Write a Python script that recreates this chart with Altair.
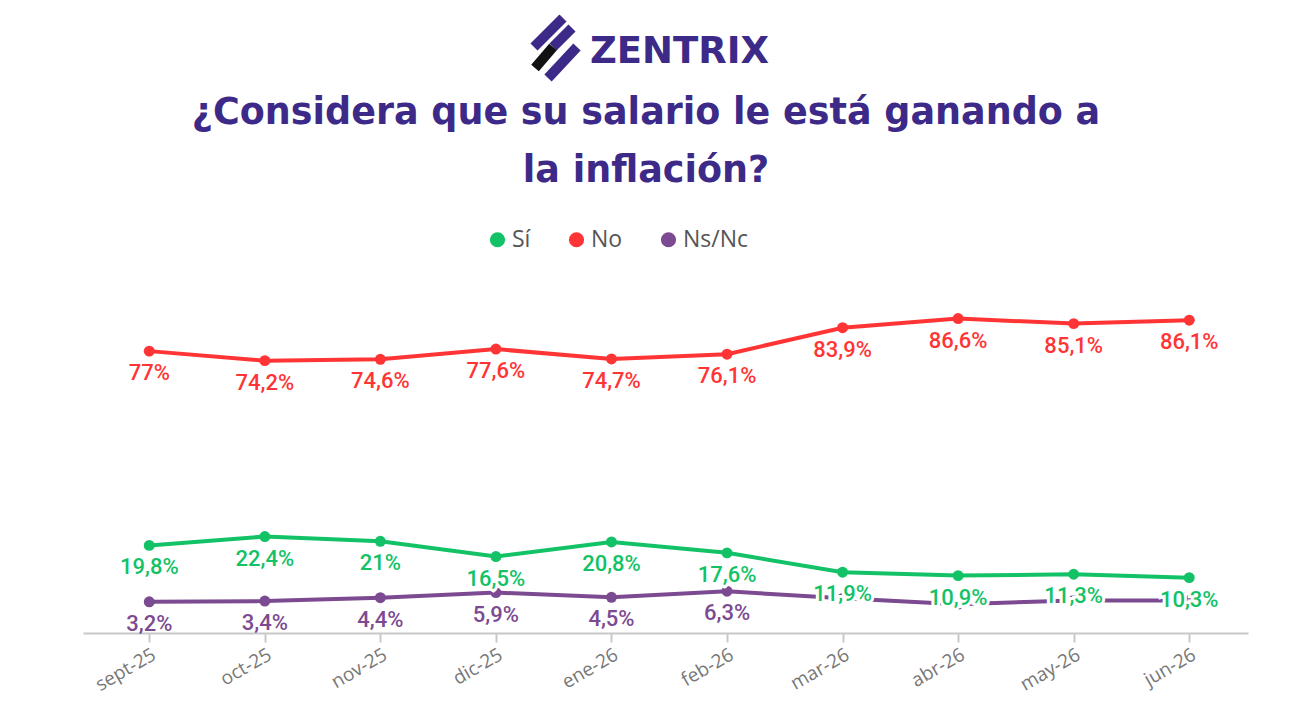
import altair as alt
import pandas as pd

meses = ['sept-25', 'oct-25', 'nov-25', 'dic-25', 'ene-26', 'feb-26',
         'mar-26', 'abr-26', 'may-26', 'jun-26']
si = [19.8, 22.4, 21.0, 16.5, 20.8, 17.6, 11.9, 10.9, 11.3, 10.3]
no = [77.0, 74.2, 74.6, 77.6, 74.7, 76.1, 83.9, 86.6, 85.1, 86.1]
nsnc = [3.2, 3.4, 4.4, 5.9, 4.5, 6.3, 4.2, 2.5, 3.6, 3.6]
# Ns/Nc labels that stay visible (the later ones sit under the Sí labels)
meses_nsnc_visibles = meses[:6]

series = ['Sí', 'No', 'Ns/Nc']
colores = ['#13c266', '#ff3535', '#7c4a90']
PURPLE = '#3d2a88'


def fmt(v):
    return f'{v:g}'.replace('.', ',') + '%'


rows = []
for nombre, vals in zip(series, [si, no, nsnc]):
    for m, v in zip(meses, vals):
        rows.append({'mes': m, 'serie': nombre, 'valor': v, 'label': fmt(v)})
data = pd.DataFrame(rows)

x_enc = alt.X('mes:N', sort=meses,
              scale=alt.Scale(type='point', padding=0.541, align=0.53),
              axis=alt.Axis(title=None, labelAngle=-30, labelFontSize=19,
                            labelFont='Open Sans', labelColor='#777',
                            domainColor='#c8c8c8', domainWidth=2,
                            tickColor='#c8c8c8', tickWidth=2, tickSize=9,
                            labelPadding=3, grid=False))
y_enc = alt.Y('valor:Q', scale=alt.Scale(domain=[-6, 95]), axis=None)
color_scale = alt.Scale(domain=series, range=colores)

base = alt.Chart(data).encode(x=x_enc, y=y_enc)

lines = base.mark_line(strokeWidth=4).encode(
    color=alt.Color('serie:N', scale=color_scale, legend=None)
)

points = base.mark_circle(size=120, opacity=1).encode(
    color=alt.Color('serie:N', scale=color_scale,
                    legend=alt.Legend(orient='none', legendX=403, legendY=-62,
                                      direction='horizontal', title=None,
                                      symbolType='circle', symbolSize=230,
                                      labelFontSize=23, labelFont='Open Sans',
                                      labelColor='#555', columnPadding=34,
                                      symbolStrokeWidth=0, labelOffset=3))
)

txt = dict(dy=22, fontSize=22, font='Roboto', fontWeight=500)

lbl_p = base.mark_text(color=colores[2], **txt).encode(text='label:N').transform_filter(
    alt.datum.serie == 'Ns/Nc').transform_filter(
    alt.FieldOneOfPredicate(field='mes', oneOf=meses_nsnc_visibles))
halo_g = base.mark_text(color='white', stroke='white', strokeWidth=6, **txt).encode(
    text='label:N').transform_filter(alt.datum.serie == 'Sí')
lbl_g = base.mark_text(color=colores[0], **txt).encode(text='label:N').transform_filter(
    alt.datum.serie == 'Sí')
lbl_r = base.mark_text(color=colores[1], **txt).encode(text='label:N').transform_filter(
    alt.datum.serie == 'No')

one = pd.DataFrame({'k': [0]})

titulo = alt.Chart(one).mark_text(
    font='DejaVu Sans', fontWeight='bold', fontSize=36.5, color=PURPLE,
    align='center', baseline='middle', lineHeight=58
).encode(
    x=alt.value(563), y=alt.value(-177),
    text=alt.value(['¿Considera que su salario le está ganando a', 'la inflación?'])
)

logo_txt = alt.Chart(one).mark_text(
    font='DejaVu Sans', fontWeight='bold', fontSize=37, color=PURPLE,
    align='left', baseline='middle'
).encode(x=alt.value(507), y=alt.value(-238), text=alt.value('ZENTRIX'))

logo_segs = pd.DataFrame({
    'x1': [480, 489, 470, 494],
    'y1': [-272, -262, -243, -243],
    'x2': [451, 470, 452, 465],
    'y2': [-243, -243, -222, -212],
    'c': ['p', 'p', 'k', 'p'],
})
logo = alt.Chart(logo_segs).mark_rule(strokeWidth=10, strokeCap='butt').encode(
    x=alt.X('x1:Q', scale=None), y=alt.Y('y1:Q', scale=None),
    x2='x2:Q', y2='y2:Q',
    color=alt.Color('c:N', scale=alt.Scale(domain=['p', 'k'], range=[PURPLE, '#111']),
                    legend=None)
)

chart = alt.layer(
    lines, points, lbl_p, halo_g, lbl_g, lbl_r, titulo, logo_txt, logo
).resolve_scale(color='independent').properties(
    width=1165, height=343,
    autosize=alt.AutoSizeParams(type='none'),
    padding={'left': 75, 'top': 282, 'right': 36, 'bottom': 80},
    background='white'
).configure_view(stroke=None)

chart.save("out.html", embed_options={"renderer": "svg", "actions": False})
